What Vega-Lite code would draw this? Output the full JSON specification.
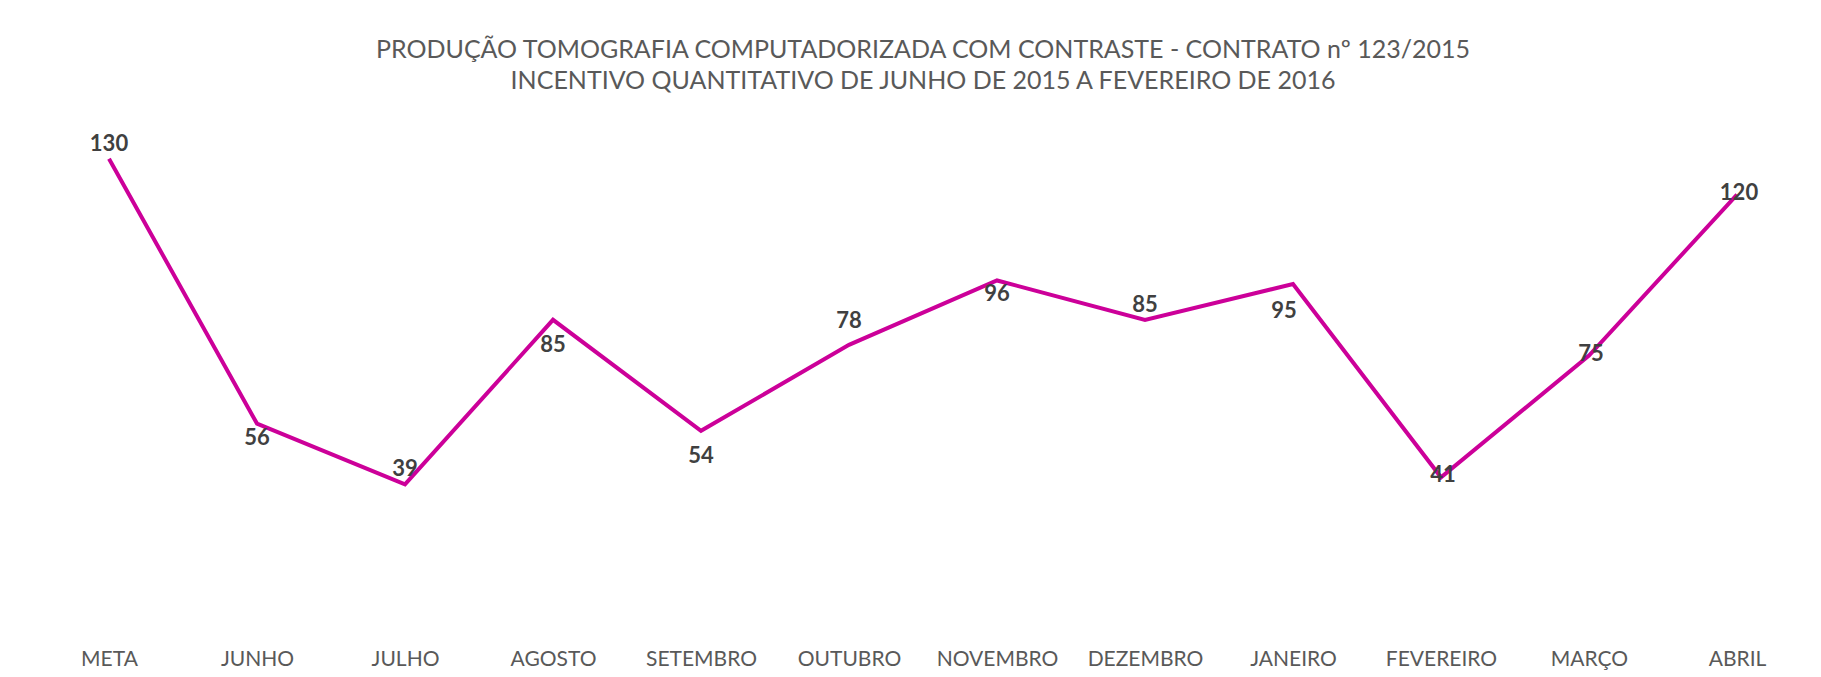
{
  "$schema": "https://vega.github.io/schema/vega-lite/v6.json",
  "autosize": "none",
  "width": 1776,
  "height": 501,
  "padding": {"left": 35, "top": 123, "right": 10, "bottom": 53},
  "background": "white",
  "config": {"view": {"stroke": null}, "font": "Lato"},
  "title": {
    "text": ["PRODUÇÃO TOMOGRAFIA COMPUTADORIZADA COM CONTRASTE - CONTRATO nº 123/2015", "INCENTIVO QUANTITATIVO DE JUNHO DE 2015 A FEVEREIRO DE 2016"],
    "font": "Lato",
    "fontSize": 25,
    "fontWeight": "normal",
    "color": "#595959",
    "lineHeight": 31,
    "anchor": "middle",
    "frame": "group",
    "baseline": "bottom",
    "offset": 4
  },
  "data": {
    "values": [
      {"mes": "META", "valor": 130},
      {"mes": "JUNHO", "valor": 56},
      {"mes": "JULHO", "valor": 39},
      {"mes": "AGOSTO", "valor": 85},
      {"mes": "SETEMBRO", "valor": 54},
      {"mes": "OUTUBRO", "valor": 78},
      {"mes": "NOVEMBRO", "valor": 96},
      {"mes": "DEZEMBRO", "valor": 85},
      {"mes": "JANEIRO", "valor": 95},
      {"mes": "FEVEREIRO", "valor": 41},
      {"mes": "MARÇO", "valor": 75},
      {"mes": "ABRIL", "valor": 120}
    ]
  },
  "encoding": {
    "x": {
      "field": "mes",
      "type": "nominal",
      "sort": null,
      "scale": {"type": "point", "padding": 0.5},
      "axis": {
        "title": null,
        "domain": false,
        "ticks": false,
        "labelAngle": 0,
        "labelFont": "Lato",
        "labelFontSize": 21,
        "labelColor": "#595959",
        "labelPadding": 24
      }
    },
    "y": {
      "field": "valor",
      "type": "quantitative",
      "scale": {"domain": [0, 140], "nice": false},
      "axis": null
    }
  },
  "layer": [
    {
      "mark": {"type": "line", "color": "#CC0099", "strokeWidth": 4, "strokeJoin": "miter"}
    },
    {
      "transform": [{"filter": {"field": "mes", "oneOf": ["META", "JULHO", "DEZEMBRO"]}}],
      "mark": {"type": "text", "font": "Lato", "fontSize": 22, "fontWeight": "bold", "color": "#404040", "baseline": "middle", "dy": -15},
      "encoding": {"text": {"field": "valor", "type": "quantitative"}}
    },
    {
      "transform": [{"filter": {"field": "mes", "oneOf": ["OUTUBRO"]}}],
      "mark": {"type": "text", "font": "Lato", "fontSize": 22, "fontWeight": "bold", "color": "#404040", "baseline": "middle", "dy": -24},
      "encoding": {"text": {"field": "valor", "type": "quantitative"}}
    },
    {
      "transform": [{"filter": {"field": "mes", "oneOf": ["JUNHO", "NOVEMBRO"]}}],
      "mark": {"type": "text", "font": "Lato", "fontSize": 22, "fontWeight": "bold", "color": "#404040", "baseline": "middle", "dy": 14},
      "encoding": {"text": {"field": "valor", "type": "quantitative"}}
    },
    {
      "transform": [{"filter": {"field": "mes", "oneOf": ["AGOSTO", "SETEMBRO"]}}],
      "mark": {"type": "text", "font": "Lato", "fontSize": 22, "fontWeight": "bold", "color": "#404040", "baseline": "middle", "dy": 25},
      "encoding": {"text": {"field": "valor", "type": "quantitative"}}
    },
    {
      "transform": [{"filter": {"field": "mes", "oneOf": ["JANEIRO"]}}],
      "mark": {"type": "text", "font": "Lato", "fontSize": 22, "fontWeight": "bold", "color": "#404040", "baseline": "middle", "dy": 27, "dx": -9},
      "encoding": {"text": {"field": "valor", "type": "quantitative"}}
    },
    {
      "transform": [{"filter": {"field": "mes", "oneOf": ["FEVEREIRO", "MARÇO", "ABRIL"]}}],
      "mark": {"type": "text", "font": "Lato", "fontSize": 22, "fontWeight": "bold", "color": "#404040", "baseline": "middle", "dy": -2, "dx": 2},
      "encoding": {"text": {"field": "valor", "type": "quantitative"}}
    }
  ]
}
